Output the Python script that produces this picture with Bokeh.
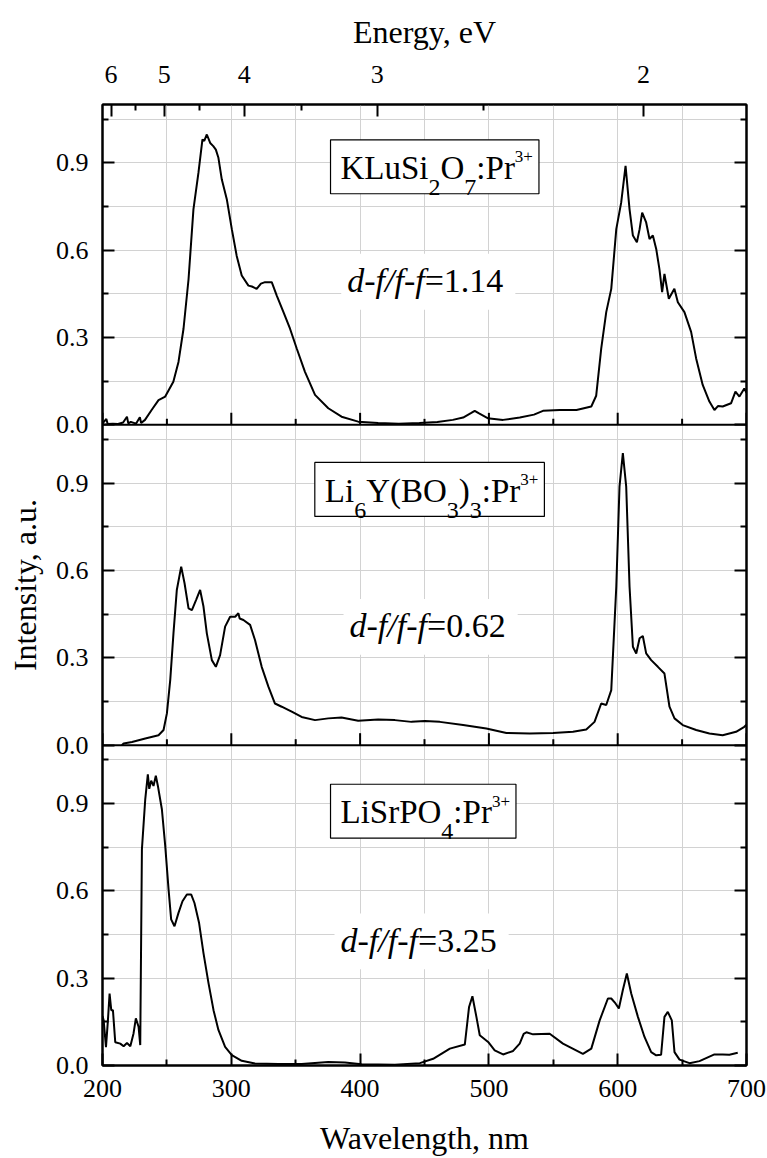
from bokeh.plotting import figure
from bokeh.models import (Range1d, LinearAxis, FixedTicker, CustomJSTickFormatter,
                          Label, Span, Grid)
from bokeh.embed import file_html
from bokeh.resources import INLINE

# ---------------- data ----------------
klusi_wl = [200, 203, 204, 208, 212, 216, 219, 220, 222, 226, 229, 230, 233, 238, 243.5, 248.7,
            255, 259, 262.9, 266.8, 270.6, 274.5, 277.6, 279, 281, 283.6, 286, 288, 290, 292.6,
            296.5, 300.4, 304.2, 308.1, 313.3, 316, 319.7, 323, 326.2, 331.4, 335.3, 340.5,
            345.6, 350.8, 357.2, 365, 375.3, 385.6, 398.5, 414, 430, 446, 460, 472, 480, 486,
            489, 492, 499, 511, 524, 535, 542, 555, 568, 579.5, 583.3, 587.2, 591.1, 595, 598.9,
            602.7, 606.1, 609.2, 611.8, 614.9, 617, 619, 622.1, 624.7, 627.3, 629.9, 632.4,
            634.5, 636.3, 639.7, 644, 646.7, 651.8, 657, 660.9, 666, 671.2, 675.1, 678, 681.5,
            688, 691.4, 694.5, 698.3, 700]
klusi_int = [0.005, 0.02, 0.003, 0.004, 0.003, 0.008, 0.028, 0.005, 0.01, 0.004, 0.026, 0.006,
             0.017, 0.05, 0.085, 0.097, 0.148, 0.216, 0.33, 0.50, 0.74, 0.866, 0.98, 0.975,
             0.997, 0.968, 0.957, 0.945, 0.917, 0.843, 0.775, 0.672, 0.58, 0.513, 0.478, 0.475,
             0.467, 0.485, 0.49, 0.49, 0.444, 0.387, 0.33, 0.262, 0.182, 0.103, 0.057, 0.028,
             0.011, 0.006, 0.004, 0.006, 0.01, 0.017, 0.025, 0.04, 0.048, 0.04, 0.023, 0.017,
             0.025, 0.035, 0.048, 0.051, 0.051, 0.063, 0.1, 0.262, 0.387, 0.467, 0.672, 0.763,
             0.889, 0.74, 0.65, 0.627, 0.672, 0.729, 0.695, 0.638, 0.65, 0.604, 0.535, 0.456,
             0.518, 0.433, 0.467, 0.421, 0.387, 0.319, 0.228, 0.137, 0.08, 0.051, 0.065, 0.063,
             0.074, 0.114, 0.097, 0.125, 0.11]

liybo_wl = [215, 216.4, 222.9, 233.2, 243.5, 247.4, 250, 252.6, 255.1, 257.7, 261.1, 263.7,
            266.8, 269.4, 272.7, 275.8, 278.4, 281, 284.9, 288, 291.3, 295.2, 299.1, 303, 305.5,
            306.5, 309.4, 314.6, 318.4, 323.6, 328.8, 333.9, 339.1, 346.9, 354.6, 365, 375.3,
            385.6, 398.5, 414, 427, 439.9, 450.2, 461.9, 480, 498, 513.6, 531.7, 549.8, 565.3,
            575.6, 582, 587.2, 591.1, 595, 598.9, 601.4, 604, 606.6, 609.2, 611.8, 614.4, 617,
            619.5, 622.1, 626, 631.2, 636.3, 640.2, 644.1, 650.5, 660.9, 671.2, 681.5, 691.9,
            698.3, 700]
liybo_int = [0.0, 0.006, 0.011, 0.023, 0.034, 0.052, 0.109, 0.224, 0.384, 0.533, 0.613, 0.556,
             0.47, 0.464, 0.499, 0.533, 0.476, 0.384, 0.292, 0.269, 0.309, 0.407, 0.441, 0.441,
             0.453, 0.435, 0.43, 0.413, 0.361, 0.269, 0.201, 0.143, 0.132, 0.115, 0.097, 0.086,
             0.092, 0.095, 0.084, 0.088, 0.086, 0.08, 0.083, 0.08, 0.069, 0.057, 0.042, 0.04,
             0.042, 0.046, 0.054, 0.08, 0.143, 0.138, 0.189, 0.544, 0.888, 1.003, 0.888, 0.544,
             0.338, 0.315, 0.367, 0.375, 0.315, 0.292, 0.269, 0.246, 0.132, 0.092, 0.069, 0.052,
             0.04, 0.034, 0.046, 0.063, 0.07]

lisr_wl = [200, 200.9, 202.7, 204.2, 205.5, 206.8, 208.1, 209.9, 213.8, 216.4, 219, 221.6,
           224.1, 225.9, 228, 229.3, 230.6, 233.2, 235.2, 236.3, 237.8, 239.6, 241.4, 243,
           246.1, 248.7, 251.3, 253.3, 255.9, 259, 262.1, 265.5, 268.9, 271.4, 275, 278.4,
           282.3, 286.2, 290, 295.2, 300.4, 308.1, 318.4, 336.5, 354.6, 375.3, 388.2, 401.1,
           427, 446.4, 456.7, 469.7, 481.3, 484.6, 487.2, 490.3, 492.9, 499.4, 504.5, 511,
           518.8, 523.9, 527, 529.1, 534.3, 547.2, 557.5, 573, 579.5, 586, 592.4, 595, 598.3,
           600.9, 604, 607.1, 610.5, 615.7, 620.8, 626, 629.9, 633.7, 636.3, 638.9, 642, 644.1,
           648, 655.7, 663.5, 675.1, 681.5, 686.7, 693.2]
lisr_int = [0.17, 0.155, 0.063, 0.155, 0.247, 0.19, 0.19, 0.08, 0.075, 0.066, 0.077, 0.066,
            0.11, 0.162, 0.133, 0.07, 0.742, 0.915, 1.0, 0.95, 0.978, 0.96, 0.995, 0.96, 0.88,
            0.754, 0.604, 0.502, 0.478, 0.524, 0.564, 0.587, 0.587, 0.558, 0.489, 0.386, 0.283,
            0.19, 0.122, 0.064, 0.036, 0.016, 0.007, 0.005, 0.005, 0.012, 0.01, 0.004, 0.003,
            0.008, 0.023, 0.058, 0.072, 0.201, 0.238, 0.167, 0.104, 0.081, 0.052, 0.038, 0.05,
            0.075, 0.109, 0.114, 0.107, 0.109, 0.075, 0.04, 0.058, 0.155, 0.23, 0.23, 0.213,
            0.196, 0.259, 0.316, 0.247, 0.167, 0.098, 0.046, 0.035, 0.037, 0.167, 0.184, 0.155,
            0.046, 0.02, 0.008, 0.015, 0.038, 0.038, 0.037, 0.044]

# formula texts: (text, "" | "sub" | "sup")
formula_top = [("KLuSi", ""), ("2", "sub"), ("O", ""), ("7", "sub"), (":Pr", ""), ("3+", "sup")]
formula_mid = [("Li", ""), ("6", "sub"), ("Y(BO", ""), ("3", "sub"), (")", ""), ("3", "sub"),
               (":Pr", ""), ("3+", "sup")]
formula_bot = [("LiSrPO", ""), ("4", "sub"), (":Pr", ""), ("3+", "sup")]
ratio_prefix = "d-f/f-f"
ratio_values = ["1.14", "0.62", "3.25"]

x_title = "Wavelength, nm"
y_title = "Intensity, a.u."
top_title = "Energy, eV"
x_ticks = [200, 300, 400, 500, 600, 700]
x_minor = [250, 350, 450, 550, 650]
y_ticks = [0.0, 0.3, 0.6, 0.9]
y_tick_labels = ["0.0", "0.3", "0.6", "0.9"]
y_minor = [0.15, 0.45, 0.75, 1.05]
energy_ticks = [6, 5, 4, 3, 2]
energy_minor = [5.5, 4.5, 3.5, 2.5]
HC = 1240.0  # eV*nm

# ---------------- layout ----------------
W, H = 767, 1158
BL, BR, BT, BB = 102, 21, 104, 92
PANEL = 1.1
NP = 3
FRAME_W = W - BL - BR
FRAME_H = H - BT - BB
PX_NM = FRAME_W / 500.0
PX_U = FRAME_H / (NP * PANEL)
FONT = "Liberation Serif"
DESC = 0.216  # font descent (em)
GRID_C = "#d2d2d2"

p = figure(width=W, height=H, x_range=Range1d(200, 700), y_range=Range1d(0, NP * PANEL),
           x_axis_type=None, y_axis_type=None, output_backend="svg", toolbar_location=None,
           min_border_left=BL, min_border_right=BR, min_border_top=BT, min_border_bottom=BB)
p.outline_line_color = "black"
p.outline_line_width = 2
p.background_fill_color = "white"
p.border_fill_color = "white"

# panel ranges: default = bottom panel, "mid", "top"
p.extra_y_ranges = {
    "mid": Range1d(-PANEL, (NP - 1) * PANEL),
    "top": Range1d(-2 * PANEL, PANEL),
}

ymaj = [k * PANEL + v for k in range(NP) for v in y_ticks]
ymin = [k * PANEL + v for k in range(NP) for v in y_minor]
ylab = [lab for k in range(NP) for lab in y_tick_labels]

# grids
p.add_layout(Grid(dimension=0, ticker=FixedTicker(ticks=sorted(x_ticks + x_minor)),
                  grid_line_color=GRID_C, grid_line_width=1))
p.add_layout(Grid(dimension=1, ticker=FixedTicker(ticks=sorted(ymaj + ymin)),
                  grid_line_color=GRID_C, grid_line_width=1))


def style_axis(ax):
    ax.axis_line_width = 2
    ax.major_tick_line_width = 2
    ax.minor_tick_line_width = 2
    ax.major_tick_in = 12
    ax.major_tick_out = 0
    ax.minor_tick_in = 6
    ax.minor_tick_out = 0
    ax.major_label_text_font = FONT
    ax.major_label_text_font_size = "26px"
    ax.major_label_text_color = "black"
    ax.axis_label_text_font = FONT
    ax.axis_label_text_font_size = "32px"
    ax.axis_label_text_font_style = "normal"
    ax.axis_label_text_color = "black"


fmt_y = CustomJSTickFormatter(args=dict(tvals=ymaj, tlabs=ylab), code="""
    for (let i = 0; i < tvals.length; i++) {
        if (Math.abs(tvals[i] - tick) < 1e-6) { return tlabs[i]; }
    }
    return "";
""")
fmt_blank = CustomJSTickFormatter(code="return '';")

left = LinearAxis(ticker=FixedTicker(ticks=ymaj, minor_ticks=ymin), formatter=fmt_y,
                  axis_label=y_title)
style_axis(left)
left.major_label_standoff = 14
left.axis_label_standoff = 10
p.add_layout(left, "left")

right = LinearAxis(ticker=FixedTicker(ticks=ymaj, minor_ticks=ymin), formatter=fmt_blank)
style_axis(right)
right.major_label_standoff = 0
p.add_layout(right, "right")

below = LinearAxis(ticker=FixedTicker(ticks=x_ticks, minor_ticks=x_minor), axis_label=x_title)
style_axis(below)
below.major_label_standoff = 14
below.axis_label_standoff = 20
p.add_layout(below, "below")

above = LinearAxis(ticker=FixedTicker(ticks=[HC / e for e in energy_ticks],
                                      minor_ticks=[HC / e for e in energy_minor]),
                   formatter=CustomJSTickFormatter(args=dict(hc=HC),
                                                   code="return String(Math.round(hc / tick));"),
                   axis_label=top_title)
style_axis(above)
above.major_label_standoff = 22
above.axis_label_standoff = 13
p.add_layout(above, "above")

# panel separators with upward wavelength ticks of the upper panels
for k in range(1, NP):
    p.add_layout(Span(location=k * PANEL, dimension="width", line_color="black", line_width=2))
    p.segment(x0=x_ticks, y0=[k * PANEL] * len(x_ticks), x1=x_ticks,
              y1=[k * PANEL + 12 / PX_U] * len(x_ticks), line_color="black", line_width=2)
    p.segment(x0=x_minor, y0=[k * PANEL] * len(x_minor), x1=x_minor,
              y1=[k * PANEL + 6 / PX_U] * len(x_minor), line_color="black", line_width=2)

# ---------------- annotations ----------------
REG = {'K': .722, 'L': .611, 'u': .5, 'S': .556, 'i': .278, 'O': .722, ':': .278, 'P': .556,
       'r': .333, 'Y': .722, '(': .333, ')': .333, 'B': .667, '+': .564, '=': .564, '.': .25,
       '-': .333}
ITA = {'d': .5, '-': .333, 'f': .278, '/': .278}


def width(s, size, italic=False):
    tab = ITA if italic else REG
    return sum(tab.get(c, 0.5) for c in s) * size


def text_at(x, y, txt, size, rname="default", dx=0.0, dy=0.0, style="normal"):
    # (x, y) is the left end of the alphabetic baseline; dy in px, positive upward
    p.add_layout(Label(x=x, y=y, y_range_name=rname, x_offset=dx, y_offset=dy - DESC * size,
                       text=txt, text_font=FONT, text_font_size=f"{size}px",
                       text_font_style=style, text_color="black", text_baseline="bottom",
                       text_align="left"))


MAIN, SUB, SUP = 33, 24, 17
SUB_DY, SUP_DY = -11, 20


def formula(segs, x0, y0, rname):
    xo = 0.0
    pieces = []
    for txt, kind in segs:
        size = MAIN if kind == "" else (SUB if kind == "sub" else SUP)
        dy = 0 if kind == "" else (SUB_DY if kind == "sub" else SUP_DY)
        pieces.append((txt, size, xo, dy))
        xo += width(txt, size)
    p.quad(left=[x0 - 10 / PX_NM], right=[x0 + (xo + 6) / PX_NM],
           top=[y0 + 39 / PX_U], bottom=[y0 - 15 / PX_U], y_range_name=rname,
           fill_color="white", line_color="black", line_width=1.2)
    for txt, size, xoff, dy in pieces:
        text_at(x0, y0, txt, size, rname, dx=xoff, dy=dy)


def ratio(val, x0, y0, rname):
    size = 34
    w1 = width(ratio_prefix, size, italic=True)
    w2 = width("=" + val, size)
    p.quad(left=[x0 - 6 / PX_NM], right=[x0 + (w1 + w2 + 12) / PX_NM],
           top=[y0 + 38 / PX_U], bottom=[y0 - 18 / PX_U], y_range_name=rname,
           fill_color="white", line_color=None)
    text_at(x0, y0, ratio_prefix, size, rname, style="italic")
    text_at(x0, y0, "=" + val, size, rname, dx=w1)


formula(formula_top, 384.8, 0.845, "top")
formula(formula_mid, 372.6, 0.837, "mid")
formula(formula_bot, 384.8, 0.832, "default")
ratio(ratio_values[0], 390.0, 0.457, "top")
ratio(ratio_values[1], 391.8, 0.372, "mid")
ratio(ratio_values[2], 384.8, 0.392, "default")

# ---------------- spectra ----------------
p.line(klusi_wl, klusi_int, y_range_name="top", line_color="black", line_width=2)
p.line(liybo_wl, liybo_int, y_range_name="mid", line_color="black", line_width=2)
p.line(lisr_wl, lisr_int, line_color="black", line_width=2)

open("out.html", "w").write(file_html(p, INLINE))
